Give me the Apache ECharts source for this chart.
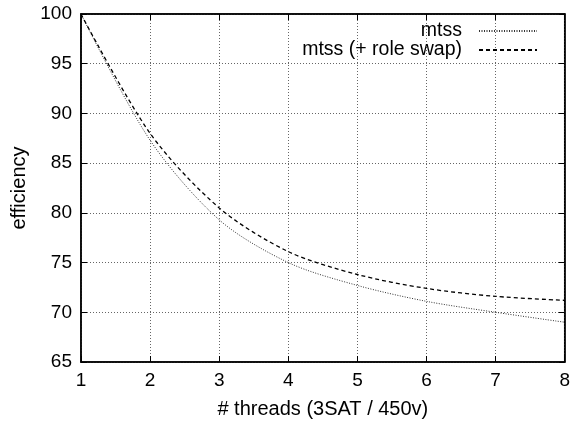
<!DOCTYPE html>
<html>
<head>
<meta charset="utf-8">
<script src="https://cdn.jsdelivr.net/npm/echarts@6/dist/echarts.min.js"></script>
<style>html,body{margin:0;padding:0;background:#fff}#c{width:573px;height:424px}</style>
</head>
<body>
<div id="c"></div>
<script>
const threads = [1, 2, 3, 4, 5, 6, 7, 8];
const mtss = [100, 87.3, 79.3, 75.0, 72.7, 71.1, 70.0, 69.0];
const mtssSwap = [100, 88.0, 80.5, 76.1, 73.8, 72.4, 71.6, 71.2];
const seriesNames = ['mtss', 'mtss (+ role swap)'];

const font = 'Liberation Sans, Arial, Helvetica, sans-serif';
const chart = echarts.init(document.getElementById('c'));
const gridLine = { show: true, lineStyle: { color: '#666', type: [1, 2], width: 1 } };
const tick = { show: true, inside: true, length: 6, lineStyle: { color: '#000', width: 1 } };
const legendText = { fontFamily: font, fontSize: 19.5, color: '#000', padding: [0, 12, 0, 0] };
const legendCommon = { right: 35, align: 'right', icon: 'inherit', padding: 0, itemWidth: 58, itemHeight: 10, itemGap: 0,
  itemStyle: { color: 'transparent', borderWidth: 0, opacity: 0 }, textStyle: legendText };

chart.setOption({
  animation: false,
  backgroundColor: '#fff',
  grid: { left: 81, right: 7, top: 14, bottom: 60, show: true, borderColor: '#000', borderWidth: 1.5, backgroundColor: 'transparent' },
  legend: [
    Object.assign({ data: [seriesNames[0]], top: 21 }, legendCommon),
    Object.assign({ data: [seriesNames[1]], top: 40 }, legendCommon)
  ],
  xAxis: [
    { type: 'value', min: 1, max: 8, interval: 1, position: 'bottom',
      name: '# threads (3SAT / 450v)', nameLocation: 'middle', nameGap: 37,
      nameTextStyle: { fontFamily: font, fontSize: 20, color: '#000' },
      axisLine: { show: true, onZero: false, lineStyle: { color: '#000', width: 1.5 } },
      axisTick: tick, splitLine: gridLine,
      axisLabel: { fontFamily: font, fontSize: 19, color: '#000', margin: 9 } },
    { type: 'value', min: 1, max: 8, interval: 1, position: 'top',
      axisLine: { show: true, onZero: false, lineStyle: { color: '#000', width: 1.5 } },
      axisTick: tick, splitLine: { show: false }, axisLabel: { show: false } }
  ],
  yAxis: [
    { type: 'value', min: 65, max: 100, interval: 5, position: 'left',
      name: 'efficiency', nameLocation: 'middle', nameGap: 49, nameRotate: 90,
      nameTextStyle: { fontFamily: font, fontSize: 20, color: '#000' },
      axisLine: { show: true, onZero: false, lineStyle: { color: '#000', width: 1.5 } },
      axisTick: tick, splitLine: gridLine,
      axisLabel: { fontFamily: font, fontSize: 19, color: '#000', margin: 9 } },
    { type: 'value', min: 65, max: 100, interval: 5, position: 'right',
      axisLine: { show: true, onZero: false, lineStyle: { color: '#000', width: 1.5 } },
      axisTick: tick, splitLine: { show: false }, axisLabel: { show: false } }
  ],
  series: [
    { name: seriesNames[0], type: 'line', symbol: 'none', smooth: 0.3,
      data: threads.map((t, i) => [t, mtss[i]]),
      lineStyle: { color: '#333', width: 1, type: [1, 1.5] }, itemStyle: { color: '#333' } },
    { name: seriesNames[1], type: 'line', symbol: 'none', smooth: 0.3,
      data: threads.map((t, i) => [t, mtssSwap[i]]),
      lineStyle: { color: '#000', width: 1.3, type: [4, 3] }, itemStyle: { color: '#000' } }
  ]
});
</script>
</body>
</html>
